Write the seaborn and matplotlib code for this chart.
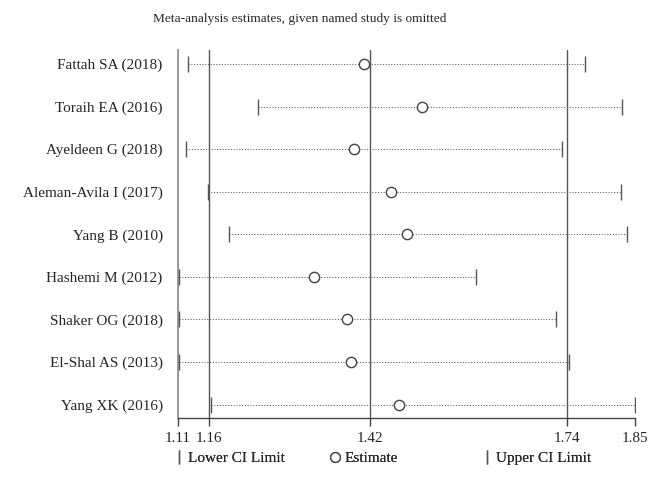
import numpy as np
import pandas as pd
import seaborn as sns
import matplotlib.pyplot as plt
from matplotlib.lines import Line2D

# Study omitted and resulting estimates / CI limits
studies = ['Fattah SA (2018)', 'Toraih EA (2016)', 'Ayeldeen G (2018)',
           'Aleman-Avila I (2017)', 'Yang B (2010)', 'Hashemi M (2012)',
           'Shaker OG (2018)', 'El-Shal AS (2013)', 'Yang XK (2016)']
estimate = [1.411, 1.505, 1.395, 1.454, 1.480, 1.330, 1.383, 1.390, 1.467]
lower = [1.126, 1.239, 1.123, 1.159, 1.193, 1.112, 1.112, 1.111, 1.164]
upper = [1.769, 1.828, 1.732, 1.827, 1.837, 1.593, 1.721, 1.742, 1.850]
ref_lines = [1.16, 1.42, 1.74]
xticks = [1.11, 1.16, 1.42, 1.74, 1.85]
legend_labels = ['Lower CI Limit', 'Estimate', 'Upper CI Limit']

df = pd.DataFrame({'study': studies, 'est': estimate, 'lo': lower, 'hi': upper})
df['row'] = np.arange(len(df))

sns.set_style('white')
plt.rcParams['font.family'] = ['Liberation Serif', 'DejaVu Serif']

fig = plt.figure(figsize=(6.59, 5.04), dpi=100)
ax = fig.add_axes([0.270, 0.171, 0.694, 0.730])

# reference lines (overall estimate and CI)
for v in ref_lines:
    ax.axvline(v, color='#555555', lw=1.0, zorder=1)

# dotted CI lines
ax.hlines(df['row'], df['lo'], df['hi'], colors='#666666', linestyles=(0, (1, 1.5)), lw=0.8, zorder=2)

# limit markers
ax.scatter(df['lo'], df['row'], marker='|', s=120, color='#555555', lw=1.0, zorder=3)
ax.scatter(df['hi'], df['row'], marker='|', s=120, color='#555555', lw=1.0, zorder=3)

# estimates
sns.scatterplot(data=df, x='est', y='row', ax=ax, marker='o', s=55,
                facecolor='white', edgecolor='#444444', linewidth=1.0, zorder=4)

ax.set_xlim(1.11, 1.85)
ax.set_ylim(len(df) - 0.69, -0.33)
ax.set_xticks(xticks)
ax.set_xticklabels([f'{t:.2f}' for t in xticks], fontsize=11)
ax.set_yticks(df['row'])
ax.set_yticklabels(df['study'], fontsize=11)
ax.tick_params(axis='y', length=0, pad=11)
ax.tick_params(axis='x', length=6, width=1.0, color='#444444', direction='out', bottom=True, pad=4)
ax.set_xlabel('')
ax.set_ylabel('')

for side in ['top', 'right']:
    ax.spines[side].set_visible(False)
ax.spines['left'].set_color('#888888')
ax.spines['left'].set_linewidth(1.2)
ax.spines['bottom'].set_color('#444444')
ax.spines['bottom'].set_linewidth(1.0)

fig.text(0.455, 0.962, 'Meta-analysis estimates, given named study is omitted',
         ha='center', va='center', fontsize=9.6)

handles = [
    Line2D([], [], marker='|', color='#555555', ls='none', markersize=10, mew=1.0),
    Line2D([], [], marker='o', mfc='white', mec='#444444', ls='none', markersize=7, mew=1.0),
    Line2D([], [], marker='|', color='#555555', ls='none', markersize=10, mew=1.0),
]
legend_x = [0.265, 0.5015, 0.732]
for h, lab, lx in zip(handles, legend_labels, legend_x):
    leg = fig.legend([h], [lab], loc='center left', bbox_to_anchor=(lx, 0.09),
                     frameon=False, fontsize=11, handlelength=0.6, handletextpad=0.3,
                     borderpad=0, borderaxespad=0)
    fig.add_artist(leg)

fig.savefig('out.png', dpi=100)
